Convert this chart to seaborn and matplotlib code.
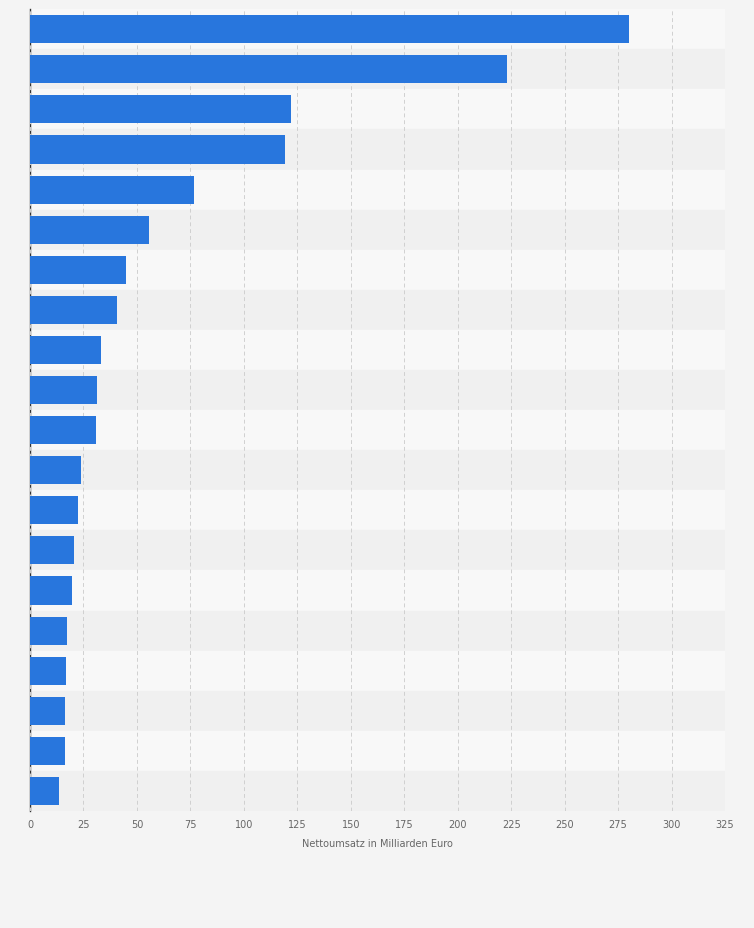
import matplotlib
matplotlib.use("Agg")
import matplotlib.pyplot as plt
import seaborn as sns
import pandas as pd

categories = [f"Unternehmen {i}" for i in range(1, 21)]
values = [280.0, 223.0, 122.0, 119.3, 76.7, 55.7, 44.9, 40.7, 33.2, 31.3,
          30.9, 23.9, 22.5, 20.6, 19.6, 17.3, 16.8, 16.4, 16.4, 13.6]
xticks = [0, 25, 50, 75, 100, 125, 150, 175, 200, 225, 250, 275, 300, 325]
xlabel = "Nettoumsatz in Milliarden Euro"

df = pd.DataFrame({"cat": categories, "val": values})

fig = plt.figure(figsize=(7.54, 9.29), dpi=100)
fig.patch.set_facecolor("#f4f4f4")
ax = fig.add_axes([0.0398, 0.126, 0.9217, 0.863])
ax.set_facecolor("#f7f7f7")
for i in range(len(categories)):
    if i % 2 == 1:
        ax.axhspan(i - 0.5, i + 0.5, color="#f0f0f0", zorder=0)
    else:
        ax.axhspan(i - 0.5, i + 0.5, color="#f8f8f8", zorder=0)

sns.barplot(data=df, x="val", y="cat", color="#2876dd", saturation=1,
            width=0.7, ax=ax, zorder=3)
ax.set_xlim(0, 325)
ax.set_ylim(len(categories) - 0.5, -0.5)
ax.set_xticks(xticks)
ax.set_xticklabels([str(t) for t in xticks], fontsize=7, color="#666666")
ax.set_yticks([])
ax.set_ylabel("")
ax.set_xlabel(xlabel, fontsize=7, color="#666666", labelpad=6)
ax.grid(axis="x", color="#d0d0d0", linestyle=(0, (4, 3)), linewidth=0.7, zorder=1)
ax.set_axisbelow(False)
for s in ["top", "right", "bottom"]:
    ax.spines[s].set_visible(False)
ax.spines["left"].set_color("#333333")
ax.spines["left"].set_linewidth(1)
ax.tick_params(axis="x", length=0, pad=6)
fig.savefig("out.png", dpi=100, facecolor=fig.get_facecolor())
